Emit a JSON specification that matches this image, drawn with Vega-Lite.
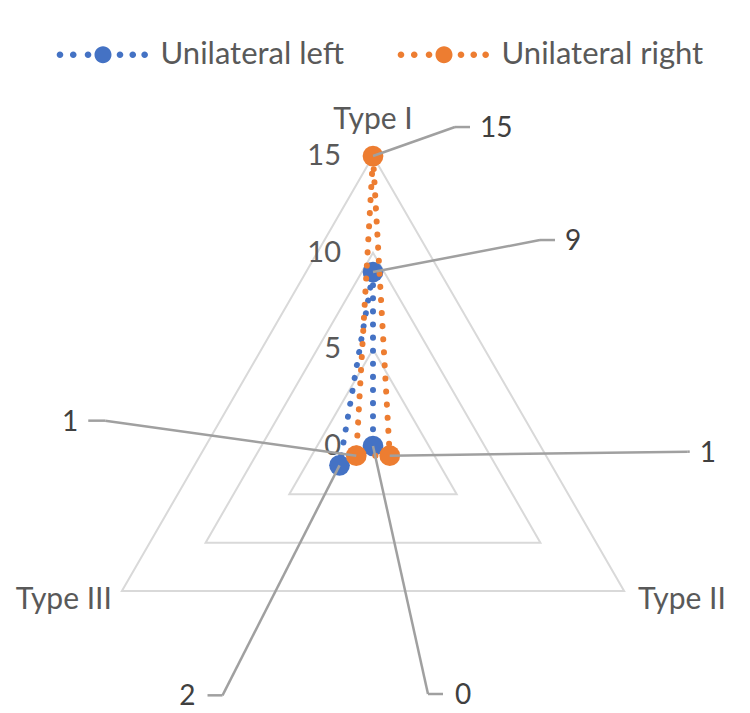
{
  "$schema": "https://vega.github.io/schema/vega-lite/v6.json",
  "width": 750,
  "height": 713,
  "autosize": {"type": "none"},
  "padding": 0,
  "background": "white",
  "config": {
    "view": {"stroke": null},
    "font": "Lato",
    "legend": {
      "orient": "none",
      "legendX": 87.5,
      "legendY": 39,
      "direction": "horizontal",
      "padding": 0,
      "symbolType": "M-1,0 a1,1 0 1,0 2,0 a1,1 0 1,0 -2,0 Z M-5.45,0 a0.39,0.39 0 1,0 0.78,0 a0.39,0.39 0 1,0 -0.78,0 Z M-3.89,0 a0.39,0.39 0 1,0 0.78,0 a0.39,0.39 0 1,0 -0.78,0 Z M-2.15,0 a0.39,0.39 0 1,0 0.78,0 a0.39,0.39 0 1,0 -0.78,0 Z M1.61,0 a0.39,0.39 0 1,0 0.78,0 a0.39,0.39 0 1,0 -0.78,0 Z M3.11,0 a0.39,0.39 0 1,0 0.78,0 a0.39,0.39 0 1,0 -0.78,0 Z M4.51,0 a0.39,0.39 0 1,0 0.78,0 a0.39,0.39 0 1,0 -0.78,0 Z",
      "symbolSize": 289,
      "symbolStrokeWidth": 0,
      "labelOffset": 42,
      "labelFont": "Lato",
      "labelFontSize": 31,
      "labelColor": "#595959",
      "labelLimit": 400,
      "columnPadding": 53
    }
  },
  "datasets": {
    "series": [
      {"series": "Unilateral left", "type": "Type I", "value": 9},
      {"series": "Unilateral left", "type": "Type II", "value": 0},
      {"series": "Unilateral left", "type": "Type III", "value": 2},
      {"series": "Unilateral right", "type": "Type I", "value": 15},
      {"series": "Unilateral right", "type": "Type II", "value": 1},
      {"series": "Unilateral right", "type": "Type III", "value": 1}
    ],
    "grid": [
      {"level": 5, "type": "Type I"},
      {"level": 5, "type": "Type II"},
      {"level": 5, "type": "Type III"},
      {"level": 10, "type": "Type I"},
      {"level": 10, "type": "Type II"},
      {"level": 10, "type": "Type III"},
      {"level": 15, "type": "Type I"},
      {"level": 15, "type": "Type II"},
      {"level": 15, "type": "Type III"}
    ],
    "ticks": [{"tick": 0}, {"tick": 5}, {"tick": 10}, {"tick": 15}]
  },
  "encoding": {
    "x": {"field": "x", "type": "quantitative", "scale": {"domain": [-19.296, 19.503], "nice": false, "zero": false}, "axis": null},
    "y": {"field": "y", "type": "quantitative", "scale": {"domain": [-13.813, 23.073], "nice": false, "zero": false}, "axis": null}
  },
  "layer": [
    {
      "data": {"name": "grid"},
      "transform": [
        {"calculate": "datum.type=='Type I'?PI/2:datum.type=='Type II'?-PI/6:7*PI/6", "as": "a"},
        {"calculate": "datum.level*cos(datum.a)", "as": "x"},
        {"calculate": "datum.level*sin(datum.a)", "as": "y"},
        {"calculate": "datum.type=='Type I'?0:datum.type=='Type II'?1:2", "as": "ord"}
      ],
      "layer": [
        {
          "mark": {"type": "line", "interpolate": "linear-closed", "stroke": "#d9d9d9", "strokeWidth": 2},
          "encoding": {"detail": {"field": "level", "type": "nominal"}, "order": {"field": "ord", "type": "quantitative"}}
        },
        {
          "transform": [{"filter": "datum.level==15 && datum.type=='Type I'"}],
          "mark": {"type": "text", "align": "center", "baseline": "middle", "dy": -36, "fontSize": 30, "fill": "#595959"},
          "encoding": {"text": {"field": "type"}}
        },
        {
          "transform": [{"filter": "datum.level==15 && datum.type=='Type II'"}],
          "mark": {"type": "text", "align": "left", "baseline": "middle", "dx": 14, "dy": 9, "fontSize": 30, "fill": "#595959"},
          "encoding": {"text": {"field": "type"}}
        },
        {
          "transform": [{"filter": "datum.level==15 && datum.type=='Type III'"}],
          "mark": {"type": "text", "align": "right", "baseline": "middle", "dx": -10, "dy": 9, "fontSize": 30, "fill": "#595959"},
          "encoding": {"text": {"field": "type"}}
        }
      ]
    },
    {
      "data": {"name": "ticks"},
      "transform": [
        {"calculate": "0", "as": "x"},
        {"calculate": "datum.tick", "as": "y"}
      ],
      "mark": {"type": "text", "align": "right", "baseline": "middle", "dx": -32, "fontSize": 29, "fill": "#595959"},
      "encoding": {"text": {"field": "tick"}}
    },
    {
      "data": {"name": "series"},
      "transform": [
        {"calculate": "datum.type=='Type I'?PI/2:datum.type=='Type II'?-PI/6:7*PI/6", "as": "a"},
        {"calculate": "datum.value*cos(datum.a)", "as": "x"},
        {"calculate": "datum.value*sin(datum.a)", "as": "y"},
        {"calculate": "datum.type=='Type I'?0:datum.type=='Type II'?1:2", "as": "ord"},
        {"calculate": "datum.series=='Unilateral right'?(datum.type=='Type I'?82:datum.type=='Type II'?298:-251):(datum.type=='Type I'?167:datum.type=='Type II'?55:-117)", "as": "oex"},
        {"calculate": "datum.series=='Unilateral right'?(datum.type=='Type I'?-29:datum.type=='Type II'?-4:-35):(datum.type=='Type I'?-32:datum.type=='Type II'?248:230)", "as": "oey"},
        {"calculate": "datum.series=='Unilateral right'?(datum.type=='Type I'?97:datum.type=='Type II'?300:-268):(datum.type=='Type I'?182:datum.type=='Type II'?70:-132)", "as": "otx"},
        {"calculate": "datum.series=='Unilateral right'?(datum.type=='Type I'?107:datum.type=='Type II'?310:-278):(datum.type=='Type I'?192:datum.type=='Type II'?82:-144)", "as": "olx"},
        {"calculate": "datum.x+datum.oex/19.33", "as": "ex"},
        {"calculate": "datum.y-datum.oey/19.33", "as": "ey"},
        {"calculate": "datum.x+datum.otx/19.33", "as": "tx"},
        {"calculate": "datum.x+datum.olx/19.33", "as": "lx"}
      ],
      "layer": [
        {
          "transform": [{"filter": "datum.series=='Unilateral left'"}],
          "mark": {"type": "line", "interpolate": "linear-closed", "strokeWidth": 6, "strokeDash": [0.1, 13], "strokeCap": "round"},
          "encoding": {
            "color": {"field": "series", "type": "nominal", "title": null, "scale": {"domain": ["Unilateral left", "Unilateral right"], "range": ["#4472C4", "#ED7D31"]}},
            "order": {"field": "ord", "type": "quantitative"}
          }
        },
        {
          "transform": [{"filter": "datum.series=='Unilateral left'"}],
          "mark": {"type": "circle", "size": 430, "opacity": 1},
          "encoding": {"color": {"field": "series", "type": "nominal", "title": null}}
        },
        {
          "transform": [{"filter": "datum.series=='Unilateral right'"}],
          "mark": {"type": "line", "interpolate": "linear-closed", "strokeWidth": 6, "strokeDash": [0.1, 13], "strokeCap": "round"},
          "encoding": {
            "color": {"field": "series", "type": "nominal", "title": null},
            "order": {"field": "ord", "type": "quantitative"}
          }
        },
        {
          "transform": [{"filter": "datum.series=='Unilateral right'"}],
          "mark": {"type": "circle", "size": 430, "opacity": 1},
          "encoding": {"color": {"field": "series", "type": "nominal", "title": null}}
        },
        {
          "mark": {"type": "rule", "stroke": "#a0a0a0", "strokeWidth": 2.5},
          "encoding": {
            "x2": {"field": "ex"},
            "y2": {"field": "ey"}
          }
        },
        {
          "mark": {"type": "rule", "stroke": "#a0a0a0", "strokeWidth": 2.5},
          "encoding": {
            "x": {"field": "ex", "type": "quantitative"},
            "y": {"field": "ey", "type": "quantitative"},
            "x2": {"field": "tx"},
            "y2": {"field": "ey"}
          }
        },
        {
          "transform": [{"filter": "datum.olx>0"}],
          "mark": {"type": "text", "align": "left", "baseline": "middle", "dy": 2, "fontSize": 28, "fill": "#404040"},
          "encoding": {
            "x": {"field": "lx", "type": "quantitative"},
            "y": {"field": "ey", "type": "quantitative"},
            "text": {"field": "value"}
          }
        },
        {
          "transform": [{"filter": "datum.olx<0"}],
          "mark": {"type": "text", "align": "right", "baseline": "middle", "dy": 2, "fontSize": 28, "fill": "#404040"},
          "encoding": {
            "x": {"field": "lx", "type": "quantitative"},
            "y": {"field": "ey", "type": "quantitative"},
            "text": {"field": "value"}
          }
        }
      ]
    }
  ]
}
